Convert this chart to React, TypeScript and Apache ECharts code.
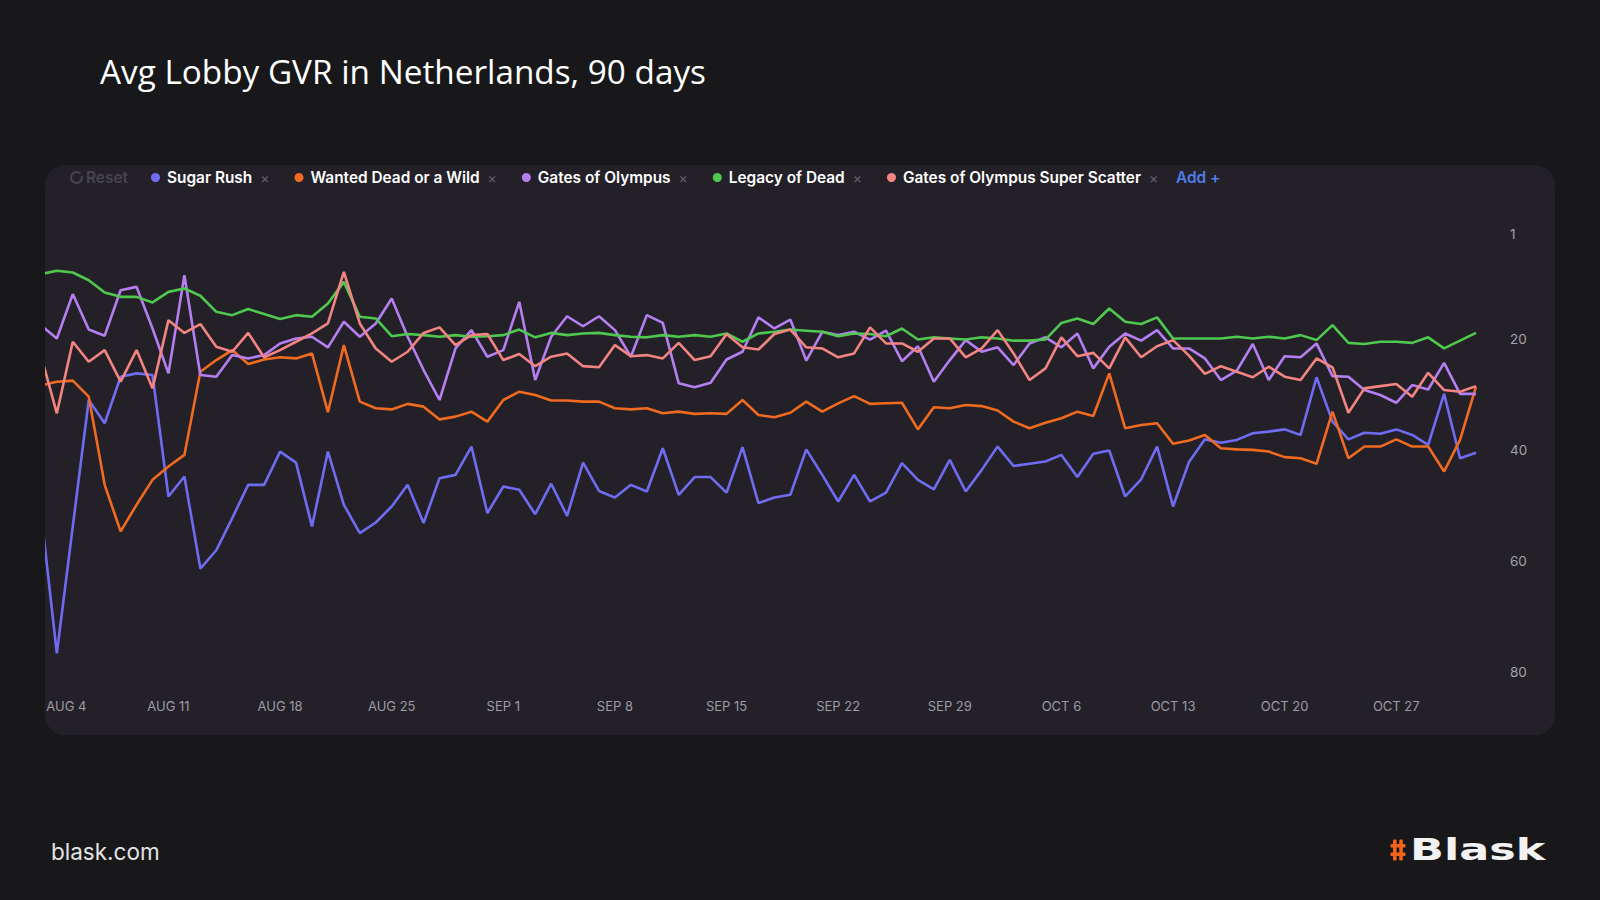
import React, { useEffect, useRef } from "react";
import * as echarts from "echarts";

// ---- data ----
const MONTHS = ["JAN", "FEB", "MAR", "APR", "MAY", "JUN", "JUL", "AUG", "SEP", "OCT", "NOV", "DEC"];
const dates: string[] = [];
for (let i = 0; i < 91; i++) {
  const dt = new Date(Date.UTC(2025, 7, 3 + i));
  dates.push(`${MONTHS[dt.getUTCMonth()]} ${dt.getUTCDate()}`);
}

const seriesNames = [
  "Sugar Rush",
  "Wanted Dead or a Wild",
  "Gates of Olympus",
  "Legacy of Dead",
  "Gates of Olympus Super Scatter",
];

const sugarRush = [
  51.1, 76.7, 53.8, 31.0, 35.2, 26.8, 26.2, 26.5, 48.4, 44.8,
  61.4, 58.1, 52.3, 46.3, 46.3, 40.3, 42.3, 53.8, 40.3, 49.9,
  55.0, 53.1, 50.2, 46.3, 53.2, 45.1, 44.5, 39.4, 51.4, 46.6,
  47.2, 51.6, 46.1, 51.9, 42.3, 47.4, 48.6, 46.3, 47.5, 39.7,
  48.1, 44.9, 44.9, 47.7, 39.5, 49.6, 48.6, 48.1, 39.9, 44.5,
  49.3, 44.5, 49.3, 47.7, 42.4, 45.4, 47.1, 41.8, 47.5, 43.6,
  39.4, 42.9, 42.5, 42.1, 40.9, 44.9, 40.7, 40.1, 48.4, 45.3,
  39.4, 50.2, 42.2, 38.1, 38.7, 38.2, 37.0, 36.7, 36.3, 37.3,
  26.9, 34.9, 38.1, 36.9, 37.1, 36.3, 37.3, 39.1, 29.9, 41.5,
  40.5,
];

const wantedDead = [
  28.4, 27.7, 27.5, 30.4, 46.3, 54.7, 49.9, 45.4, 43.0, 40.9,
  25.9, 23.8, 22.0, 24.5, 23.7, 23.3, 23.5, 22.6, 33.2, 21.1,
  31.3, 32.5, 32.7, 31.7, 32.2, 34.5, 34.0, 33.1, 34.9, 31.0,
  29.5, 30.1, 31.1, 31.1, 31.3, 31.3, 32.5, 32.7, 32.5, 33.4,
  33.1, 33.5, 33.4, 33.5, 31.0, 33.7, 34.1, 33.3, 31.3, 33.1,
  31.6, 30.3, 31.7, 31.6, 31.5, 36.3, 32.3, 32.5, 31.9, 32.1,
  32.9, 34.9, 36.1, 35.1, 34.3, 33.1, 33.9, 26.2, 36.1, 35.5,
  35.2, 38.9, 38.3, 37.3, 39.7, 39.9, 40.0, 40.3, 41.3, 41.5,
  42.5, 33.1, 41.5, 39.4, 39.4, 38.1, 39.4, 39.4, 43.9, 38.2,
  28.6,
];

const gatesOfOlympus = [
  17.5, 19.9, 11.9, 18.3, 19.4, 11.2, 10.6, 18.1, 26.2, 8.5,
  26.5, 26.8, 22.9, 23.5, 22.9, 20.8, 19.9, 19.6, 21.5, 16.9,
  19.6, 17.2, 12.7, 19.6, 25.6, 31.0, 21.7, 18.4, 23.2, 22.0,
  13.3, 27.4, 19.6, 15.9, 17.7, 15.9, 18.4, 23.2, 15.7, 17.1,
  28.0, 28.7, 27.9, 23.7, 22.3, 16.1, 18.1, 16.5, 23.9, 18.7,
  19.3, 18.7, 20.1, 18.5, 24.0, 21.3, 27.7, 23.8, 20.2, 22.3,
  21.5, 24.7, 20.8, 19.7, 21.5, 19.0, 25.3, 21.4, 19.0, 20.3,
  18.4, 21.7, 21.7, 23.5, 27.4, 25.7, 20.9, 27.4, 23.1, 23.3,
  20.8, 26.7, 26.8, 29.2, 30.1, 31.5, 28.3, 29.1, 24.3, 29.9,
  29.9,
];

const legacyOfDead = [
  8.3, 7.7, 8.0, 9.4, 11.6, 12.4, 12.4, 13.4, 11.5, 10.9,
  12.2, 15.1, 15.7, 14.6, 15.5, 16.4, 15.7, 16.0, 13.6, 9.7,
  16.0, 16.3, 19.5, 19.1, 19.3, 19.6, 19.3, 19.6, 19.5, 19.3,
  18.3, 19.7, 18.9, 19.3, 19.0, 18.9, 19.3, 19.6, 19.7, 19.3,
  19.6, 19.3, 19.6, 19.0, 20.5, 19.0, 18.7, 18.3, 18.5, 18.7,
  19.5, 19.0, 19.1, 19.5, 18.1, 20.1, 19.7, 19.9, 20.1, 19.7,
  19.9, 20.3, 20.3, 20.1, 17.1, 16.3, 17.3, 14.5, 16.9, 17.3,
  16.1, 19.9, 19.9, 19.9, 19.9, 19.6, 19.9, 19.6, 19.9, 19.3,
  20.2, 17.5, 20.7, 20.9, 20.5, 20.5, 20.7, 19.7, 21.7, 20.3,
  18.9,
];

const superScatter = [
  22.9, 33.4, 20.5, 24.1, 22.0, 27.7, 22.0, 28.9, 16.6, 18.9,
  17.3, 21.4, 22.3, 18.9, 23.3, 22.0, 20.5, 19.0, 17.2, 7.9,
  17.2, 21.7, 24.1, 22.3, 18.9, 17.9, 21.1, 19.3, 19.1, 23.8,
  22.7, 24.9, 23.2, 22.6, 24.9, 25.1, 21.1, 23.1, 22.9, 23.5,
  20.7, 23.8, 23.1, 19.1, 21.5, 21.9, 19.1, 18.3, 21.5, 21.7,
  23.3, 22.6, 17.9, 20.8, 20.8, 22.3, 19.9, 19.9, 23.3, 21.7,
  18.4, 22.6, 27.4, 25.3, 19.7, 23.1, 22.5, 25.3, 19.7, 23.3,
  21.3, 20.2, 23.0, 26.3, 24.9, 25.9, 26.9, 25.0, 26.8, 27.4,
  23.5, 25.1, 33.3, 28.9, 28.5, 28.1, 30.4, 26.1, 29.2, 29.5,
  28.5,
];

const seriesData = [sugarRush, wantedDead, gatesOfOlympus, legacyOfDead, superScatter];
const seriesColors = ["#6f6cf2", "#f06a1f", "#b57ff2", "#4fc84f", "#f28482"];

const yTicks = [1, 20, 40, 60, 80];

const BG = "#18181a";
const PANEL = "#232028";
const LOGO_ORANGE = "#f2631c";

export default function App() {
  const ref = useRef<HTMLDivElement | null>(null);

  useEffect(() => {
    if (!ref.current) return;
    const chart = echarts.init(ref.current, null, { renderer: "svg" });

    const option: any = {
      animation: false,
      backgroundColor: BG,
      textStyle: { fontFamily: "Inter" },
      graphic: [
        {
          type: "rect",
          z: -10,
          shape: { x: 45, y: 165, width: 1510, height: 570, r: 20 },
          style: { fill: PANEL },
        },
        {
          type: "rect",
          z: 100,
          shape: { x: 0, y: 200, width: 45, height: 500 },
          style: { fill: BG },
        },
        {
          type: "text",
          x: 100,
          y: 71,
          style: {
            text: "Avg Lobby GVR in Netherlands, 90 days",
            fill: "#ffffff",
            fontSize: 33.3,
            fontFamily: "Open Sans",
            verticalAlign: "middle",
          },
        },
        {
          type: "arc",
          shape: { cx: 76.5, cy: 177.5, r: 5.5, startAngle: -0.1 * Math.PI, endAngle: 1.75 * Math.PI },
          style: { stroke: "#48454e", lineWidth: 2, fill: "none" },
        },
        {
          type: "text",
          x: 86,
          y: 177.5,
          style: {
            text: "Reset",
            fill: "#48454e",
            fontSize: 15.4,
            fontWeight: 600,
            fontFamily: "Inter",
            verticalAlign: "middle",
          },
        },
        {
          type: "text",
          x: 1176,
          y: 177.5,
          style: {
            text: "Add +",
            fill: "#4f7ee8",
            fontSize: 15.4,
            fontWeight: 600,
            fontFamily: "Inter",
            verticalAlign: "middle",
          },
        },
        {
          type: "text",
          x: 51,
          y: 851,
          style: {
            text: "blask.com",
            fill: "#e4e4e4",
            fontSize: 22.5,
            fontFamily: "Inter",
            verticalAlign: "middle",
          },
        },
        // logo hash mark
        { type: "rect", shape: { x: 1393, y: 839.5, width: 3.6, height: 21, r: 1.2 }, style: { fill: LOGO_ORANGE } },
        { type: "rect", shape: { x: 1399.2, y: 839.5, width: 3.6, height: 21, r: 1.2 }, style: { fill: LOGO_ORANGE } },
        { type: "rect", shape: { x: 1390.5, y: 844, width: 15, height: 3.6, r: 1.2 }, style: { fill: LOGO_ORANGE } },
        { type: "rect", shape: { x: 1390.5, y: 852.5, width: 15, height: 3.6, r: 1.2 }, style: { fill: LOGO_ORANGE } },
        {
          type: "text",
          x: 1410,
          y: 850,
          scaleX: 1.46,
          originX: 0,
          originY: 0,
          style: {
            text: "Blask",
            fill: "#f2f2f2",
            fontSize: 30.5,
            fontWeight: "bold",
            fontFamily: "DejaVu Sans",
            verticalAlign: "middle",
          },
        },
      ],
      legend: {
        left: 146,
        top: 165,
        icon: "circle",
        itemWidth: 9,
        itemHeight: 9,
        itemGap: 25,
        selectedMode: false,
        data: seriesNames,
        formatter: (name: string) => `{n|${name}}{x|×}`,
        textStyle: {
          rich: {
            n: {
              color: "#ffffff",
              fontSize: 15.4,
              fontWeight: 600,
              fontFamily: "Inter",
              padding: [0, 8, 0, 2],
            },
            x: { color: "#66636b", fontSize: 14, fontFamily: "Inter" },
          },
        },
      },
      grid: { left: 40.9, right: 124, top: 228.1, bottom: 228.3 },
      xAxis: {
        type: "category",
        data: dates,
        boundaryGap: false,
        axisLine: { show: false },
        axisTick: { show: false },
        splitLine: { show: false },
        axisLabel: {
          interval: (index: number) => index % 7 === 1,
          color: "#9d9ba3",
          fontSize: 13,
          fontFamily: "Inter",
          margin: 28,
          formatter: (value: string, index: number) => (index === 1 ? `{f|${value}}` : value),
          rich: {
            f: { color: "#9d9ba3", fontSize: 13, fontFamily: "Inter", padding: [0, 0, 0, 19] },
          },
        },
      },
      yAxis: {
        type: "value",
        inverse: true,
        min: 0,
        max: 80,
        position: "right",
        axisLine: { show: false },
        axisTick: { show: false },
        splitLine: { show: false },
        axisLabel: {
          customValues: yTicks,
          color: "#a3a1a8",
          fontSize: 13.5,
          fontFamily: "Inter",
          margin: 34,
        },
      },
      series: seriesNames.map((name, i) => ({
        name,
        type: "line",
        data: seriesData[i],
        symbol: "none",
        lineStyle: { width: 2.6, color: seriesColors[i] },
        itemStyle: { color: seriesColors[i] },
      })),
    };

    chart.setOption(option);
    return () => {
      chart.dispose();
    };
  }, []);

  return (
    <div
      ref={ref}
      style={{ position: "fixed", left: 0, top: 0, width: 1600, height: 900, background: BG }}
    />
  );
}
